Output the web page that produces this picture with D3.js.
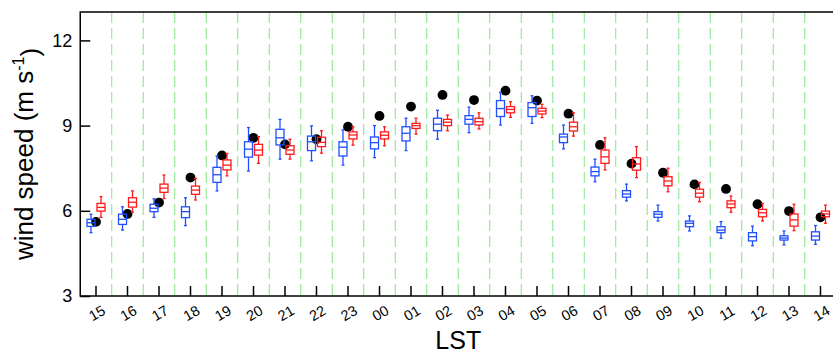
<!DOCTYPE html>
<html>
<head>
<meta charset="utf-8">
<script src="https://cdn.jsdelivr.net/npm/d3@7"></script>
<style>
  body { margin: 0; background: #fff; }
  svg { display: block; font-family: 'Liberation Sans', Arial, sans-serif; }
</style>
</head>
<body>
<script>
var width = 833
var height = 353

var hours = ['15', '16', '17', '18', '19', '20', '21', '22', '23', '00', '01', '02',
  '03', '04', '05', '06', '07', '08', '09', '10', '11', '12', '13', '14']

// blue boxes: whisker low, q1, median, q3, whisker high
var blueLow = [5.23, 5.32, 5.77, 5.48, 6.70, 7.40, 7.82, 7.76, 7.61, 7.87, 8.12, 8.52,
  8.75, 9.02, 9.08, 8.18, 7.02, 6.35, 5.64, 5.29, 5.03, 4.77, 4.80, 4.82]
var blueQ1 = [5.45, 5.52, 5.97, 5.76, 7.00, 7.89, 8.32, 8.12, 7.93, 8.18, 8.46, 8.82,
  9.05, 9.32, 9.32, 8.40, 7.23, 6.48, 5.77, 5.44, 5.23, 4.94, 4.97, 4.97]
var blueMed = [5.58, 5.70, 6.09, 5.97, 7.27, 8.17, 8.57, 8.43, 8.24, 8.40, 8.73, 9.05,
  9.22, 9.60, 9.63, 8.60, 7.38, 6.59, 5.88, 5.56, 5.32, 5.09, 5.04, 5.11]
var blueQ3 = [5.70, 5.88, 6.23, 6.14, 7.53, 8.43, 8.87, 8.63, 8.43, 8.60, 8.96, 9.26,
  9.35, 9.88, 9.81, 8.70, 7.54, 6.71, 5.97, 5.64, 5.44, 5.23, 5.12, 5.26]
var blueHigh = [5.88, 6.14, 6.42, 6.46, 7.93, 8.93, 9.22, 8.99, 8.85, 9.00, 9.26, 9.54,
  9.65, 10.17, 10.05, 9.02, 7.82, 6.94, 6.20, 5.82, 5.62, 5.46, 5.29, 5.48]

// red boxes
var redLow = [5.77, 5.95, 6.43, 6.38, 7.23, 7.67, 7.82, 8.03, 8.31, 8.29, 8.70, 8.82,
  8.88, 9.29, 9.28, 8.63, 7.44, 7.17, 6.67, 6.32, 5.95, 5.64, 5.30, 5.56]
var redQ1 = [5.99, 6.13, 6.65, 6.58, 7.44, 7.96, 7.99, 8.26, 8.53, 8.53, 8.90, 9.00,
  9.02, 9.45, 9.41, 8.81, 7.67, 7.43, 6.88, 6.48, 6.11, 5.79, 5.46, 5.79]
var redMed = [6.12, 6.30, 6.80, 6.73, 7.61, 8.14, 8.14, 8.41, 8.67, 8.66, 9.00, 9.12,
  9.14, 9.57, 9.51, 8.96, 7.90, 7.65, 7.05, 6.62, 6.24, 5.93, 5.68, 5.89]
var redQ3 = [6.26, 6.46, 6.94, 6.87, 7.79, 8.34, 8.29, 8.59, 8.78, 8.78, 9.08, 9.22,
  9.26, 9.67, 9.61, 9.12, 8.14, 7.87, 7.20, 6.76, 6.35, 6.05, 5.89, 5.99]
var redHigh = [6.50, 6.70, 7.26, 7.14, 8.02, 8.61, 8.52, 8.82, 8.96, 8.96, 9.26, 9.37,
  9.45, 9.84, 9.75, 9.45, 8.57, 8.26, 7.50, 7.00, 6.52, 6.26, 6.23, 6.20]

// black dots
var dots = [5.61, 5.89, 6.29, 7.17, 7.95, 8.57, 8.34, 8.52, 8.96, 9.34, 9.67, 10.08,
  9.90, 10.23, 9.88, 9.42, 8.32, 7.66, 7.34, 6.93, 6.77, 6.23, 5.99, 5.77]

var yTicks = [3, 6, 9, 12]

var margin = { left: 80.25, top: 12, bottom: 296 }
var svg, x, y

window.onload = main

function main() {
  svg = d3.select('body').append('svg')
    .attr('width', width)
    .attr('height', height)

  x = d3.scaleBand()
    .domain(hours)
    .range([margin.left, margin.left + 31.5 * hours.length])
    .padding(0)

  y = d3.scaleLinear()
    .domain([3, 13])
    .range([margin.bottom, margin.top])

  drawGrid()
  drawDots()
  drawBoxes(blueLow, blueQ1, blueMed, blueQ3, blueHigh, -5, '#1f4fff')
  drawBoxes(redLow, redQ1, redMed, redQ3, redHigh, 5, '#ff1a1a')
  drawAxes()
}

function drawGrid() {
  // dashed separators between hours
  svg.append('g').selectAll('line')
    .data(hours.slice(1))
    .enter()
    .append('line')
    .attr('x1', (d) => x(d))
    .attr('x2', (d) => x(d))
    .attr('y1', y(13))
    .attr('y2', y(3))
    .style('stroke', '#8ee88e')
    .style('stroke-width', 1.1)
    .style('stroke-dasharray', '11,5')
}

function drawDots() {
  svg.append('g').selectAll('circle')
    .data(dots)
    .enter()
    .append('circle')
    .attr('cx', (d, i) => x(hours[i]) + x.bandwidth() / 2)
    .attr('cy', (d) => y(d))
    .attr('r', 4.9)
    .style('fill', '#000')
}

function drawBoxes(low, q1, med, q3, high, offset, color) {
  var bw = 8
  var g = svg.append('g')
    .style('stroke', color)
    .style('stroke-width', 1.3)
    .style('fill', 'none')

  var items = g.selectAll('g')
    .data(hours)
    .enter()
    .append('g')
    .attr('transform', (d) => 'translate(' + (x(d) + x.bandwidth() / 2 + offset) + ',0)')

  // whiskers
  items.append('line')
    .attr('x1', 0).attr('x2', 0)
    .attr('y1', (d, i) => y(high[i]))
    .attr('y2', (d, i) => y(q3[i]))
  items.append('line')
    .attr('x1', 0).attr('x2', 0)
    .attr('y1', (d, i) => y(q1[i]))
    .attr('y2', (d, i) => y(low[i]))

  // caps
  items.append('line')
    .attr('x1', -1.5).attr('x2', 1.5)
    .attr('y1', (d, i) => y(high[i]))
    .attr('y2', (d, i) => y(high[i]))
  items.append('line')
    .attr('x1', -1.5).attr('x2', 1.5)
    .attr('y1', (d, i) => y(low[i]))
    .attr('y2', (d, i) => y(low[i]))

  // box + median
  items.append('rect')
    .attr('x', -bw / 2)
    .attr('y', (d, i) => y(q3[i]))
    .attr('width', bw)
    .attr('height', (d, i) => y(q1[i]) - y(q3[i]))
  items.append('line')
    .attr('x1', -bw / 2).attr('x2', bw / 2)
    .attr('y1', (d, i) => y(med[i]))
    .attr('y2', (d, i) => y(med[i]))
}

function drawAxes() {
  var yAxis = d3.axisLeft(y)
    .tickValues(yTicks)
    .tickSize(-10)
    .tickPadding(8)

  var gy = svg.append('g')
    .attr('transform', 'translate(' + margin.left + ',0)')
    .call(yAxis)
  gy.select('.domain').remove()
  gy.selectAll('line').style('stroke', '#000').style('stroke-width', 1.5)
  gy.selectAll('text')
    .style('font-size', '18px')
    .style('fill', '#000')

  var xAxis = d3.axisBottom(x)
    .tickSize(-10)
    .tickPadding(0)

  var gx = svg.append('g')
    .attr('transform', 'translate(0,' + margin.bottom + ')')
    .call(xAxis)
  gx.select('.domain').remove()
  gx.selectAll('line').style('stroke', '#000').style('stroke-width', 1.5)
  gx.selectAll('text')
    .attr('y', 0)
    .attr('dy', '0.35em')
    .attr('transform', 'translate(1,17) rotate(-30)')
    .style('text-anchor', 'middle')
    .style('font-size', '14.5px')
    .style('fill', '#000')

  // frame (left, top, bottom, right)
  var right = margin.left + 31.5 * hours.length
  svg.append('path')
    .attr('d', 'M' + right + ',' + margin.top + 'H' + margin.left + 'V' + margin.bottom + 'H' + right + 'Z')
    .style('fill', 'none')
    .style('stroke', '#000')
    .style('stroke-width', 1.5)

  // axis titles
  var yLabel = svg.append('text')
    .attr('transform', 'translate(33,' + (margin.top + margin.bottom) / 2 + ') rotate(-90)')
    .style('text-anchor', 'middle')
    .style('font-size', '26px')
    .style('fill', '#000')
  yLabel.append('tspan').text('wind speed (m s')
  yLabel.append('tspan')
    .attr('dy', '-0.55em')
    .style('font-size', '16px')
    .text('-1')
  yLabel.append('tspan')
    .attr('dy', '0.55em')
    .text(')')

  svg.append('text')
    .attr('x', (margin.left + right) / 2)
    .attr('y', 349)
    .style('text-anchor', 'middle')
    .style('font-size', '25px')
    .style('fill', '#000')
    .text('LST')
}
</script>
</body>
</html>
